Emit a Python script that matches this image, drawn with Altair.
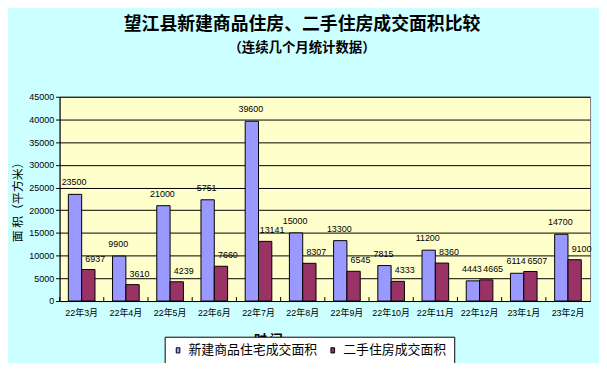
import altair as alt
import pandas as pd

categories = ["22年3月", "22年4月", "22年5月", "22年6月", "22年7月", "22年8月",
              "22年9月", "22年10月", "22年11月", "22年12月", "23年1月", "23年2月"]
series_names = ["新建商品住宅成交面积", "二手住房成交面积"]
new_values = [23500, 9900, 21000, 22300, 39600, 15000, 13300, 7815, 11200, 4443, 6114, 14700]
new_labels = ["23500", "9900", "21000", "5751", "39600", "15000", "13300", "7815", "11200", "4443", "6114", "14700"]
used_values = [6937, 3610, 4239, 7660, 13141, 8307, 6545, 4333, 8360, 4665, 6507, 9100]
used_labels = ["6937", "3610", "4239", "7660", "13141", "8307", "6545", "4333", "8360", "4665", "6507", "9100"]
y_ticks = [0, 5000, 10000, 15000, 20000, 25000, 30000, 35000, 40000, 45000]

rows = []
for c, v, l in zip(categories, new_values, new_labels):
    rows.append({"cat": c, "series": series_names[0], "value": v, "label": l})
for c, v, l in zip(categories, used_values, used_labels):
    rows.append({"cat": c, "series": series_names[1], "value": v, "label": l})
df = pd.DataFrame(rows)
cat_df = pd.DataFrame({"cat": categories})

FONT_NUM = "Liberation Sans, Noto Sans CJK SC"
FONT_CJK = "Noto Sans CJK SC"

x_axis = alt.Axis(title="时  间", labelAngle=0, ticks=False, labelPadding=8,
                  labelFontSize=9, labelFont=FONT_NUM, labelColor="black",
                  labelOverlap=False,
                  domainColor="black", grid=False,
                  titleFont=FONT_CJK, titleFontSize=13, titleFontWeight="bold",
                  titleX=210, titleY=33, titleBaseline="top", titleColor="black")
x_scale = alt.Scale(paddingInner=0, paddingOuter=0)
x_enc = alt.X("cat:N", sort=categories, scale=x_scale, axis=x_axis)
xoff = alt.XOffset("series:N", sort=series_names,
                   scale=alt.Scale(paddingInner=0, paddingOuter=0.66))
y_axis = alt.Axis(title="面 积（平方米）", values=y_ticks, format="d",
                  labelOverlap=False,
                  labelFontSize=9, labelFont=FONT_NUM, labelColor="black",
                  tickColor="black", tickSize=4, labelPadding=2,
                  domainColor="black", gridColor="black", gridWidth=1,
                  titleFont=FONT_CJK, titleFontSize=12, titleFontWeight="normal",
                  titlePadding=4, titleColor="black")
y_enc = alt.Y("value:Q", scale=alt.Scale(domain=[0, 45000], nice=False), axis=y_axis)

color = alt.Color("series:N", sort=series_names,
                  scale=alt.Scale(domain=series_names, range=["#9999FF", "#993366"]),
                  legend=alt.Legend(title=None, orient="none", direction="horizontal",
                                    legendX=106, legendY=242, padding=7,
                                    fillColor="white", strokeColor="black",
                                    symbolType="M-0.35,-0.5H0.35V0.5H-0.35Z",
                                    symbolSize=110, symbolStrokeColor="black",
                                    symbolStrokeWidth=1, symbolOpacity=1,
                                    labelFont=FONT_CJK, labelFontSize=13, labelColor="black",
                                    labelOffset=4, columnPadding=8))

base = alt.Chart(df)

bars = base.mark_bar(stroke="black", strokeWidth=1, opacity=1).encode(
    x=x_enc, xOffset=xoff, y=y_enc, color=color)

lab_new = base.transform_filter(alt.datum.series == series_names[0]).mark_text(
    font=FONT_NUM, fontSize=9, color="black", dx=-1, dy=-12, baseline="middle"
).encode(x=x_enc, xOffset=xoff, y=y_enc, text="label:N")

lab_used = base.transform_filter(alt.datum.series == series_names[1]).mark_text(
    font=FONT_NUM, fontSize=9, color="black", dx=7, dy=-11, baseline="middle"
).encode(x=x_enc, xOffset=xoff, y=y_enc, text="label:N")

ticks = alt.Chart(cat_df).mark_rule(color="black", strokeWidth=1).encode(
    x=alt.X("cat:N", sort=categories, bandPosition=0, scale=x_scale, axis=x_axis),
    y=alt.value(202), y2=alt.value(206))

chart = alt.layer(bars, ticks, lab_new, lab_used).properties(
    width=535, height=206,
    autosize=alt.AutoSizeParams(type="none"),
    padding={"left": 52, "top": 88, "right": 9, "bottom": 61},
    background="#CCFFFF",
    title=alt.TitleParams(
        text="望江县新建商品住房、二手住房成交面积比较",
        subtitle="（连续几个月统计数据）",
        font=FONT_CJK, fontSize=18, fontWeight="bold", color="black",
        subtitleFont=FONT_CJK, subtitleFontSize=13.5, subtitleFontWeight="bold",
        subtitleColor="black", subtitlePadding=7,
        anchor="middle", dx=-23, offset=39),
).configure_view(fill="#FFFFCC", stroke="#808080")

chart.save("out.html", embed_options={"renderer": "svg", "actions": False})
